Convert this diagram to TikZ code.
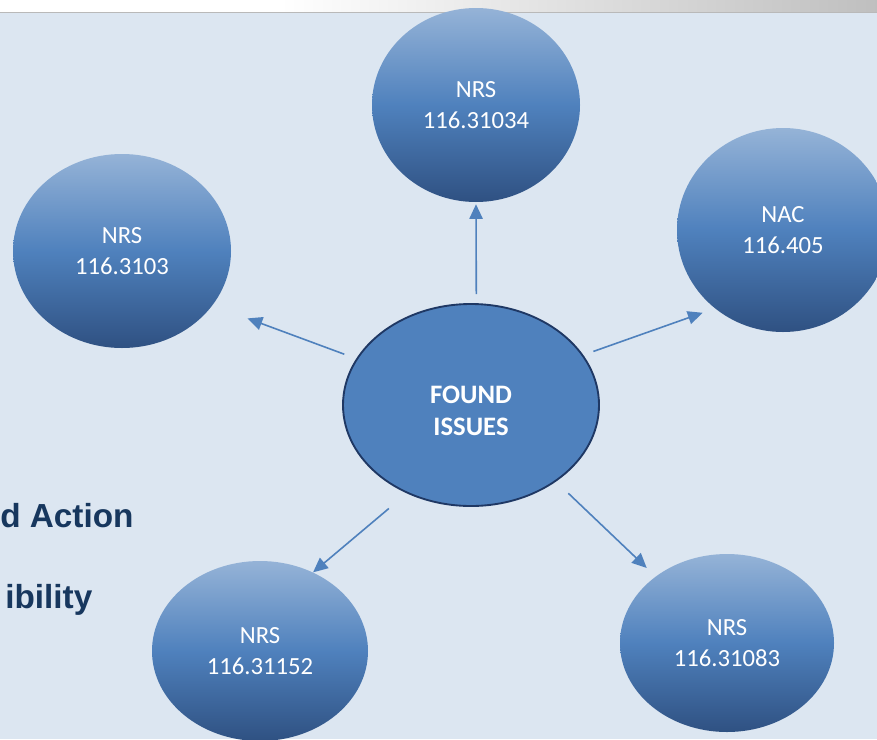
\documentclass[tikz,border=0pt]{standalone}
\usepackage{fontspec}
\setmainfont{Carlito}
\newfontfamily\headfont{Liberation Sans}
\usepackage{tikz}
\usetikzlibrary{shapes.geometric,arrows.meta}
\definecolor{bgblue}{HTML}{DCE6F1}
\definecolor{accent}{HTML}{4F81BD}
\definecolor{lightacc}{HTML}{95B3D7}
\definecolor{darkacc}{HTML}{2F5182}
\definecolor{navy}{HTML}{17375E}
\definecolor{rimblue}{HTML}{1F3864}
\tikzstyle{arrow} = [line width=1.2pt, draw=accent, -{Triangle[length=11pt,width=10pt]}]
\tikzset{
 c/.style
  = {ellipse, inner sep=0pt, text=white, align=center, top color=lightacc,
     bottom color=darkacc, middle color=accent, font=\fontsize{18.5}{23}\selectfont},
 ci/.style
  = {ellipse, draw=rimblue, line width=1.4pt, fill=accent, inner sep=0pt},
 cit/.style
  = {text=white, align=center, yshift=-4.5pt, font=\fontsize{20}{24}\selectfont\bfseries},
 lt/.style
  = {anchor=base west, inner sep=0pt, text=navy, font=\headfont\fontsize{25}{28}\selectfont\bfseries},
}

\begin{document}
\begin{tikzpicture}[x=0.75pt, y=-0.75pt]
\useasboundingbox (0,0) rectangle (877,739);

% Background
\fill[bgblue] (0,0) rectangle (877,739);

% Title bar
\fill[white] (0,0) rectangle (280,12);
\shade[left color=white, right color=gray!50] (280,0) rectangle (877,12);
\draw[gray!55, line width=1.2pt] (0,12.5) -- (877,12.5);

% Left text
\node[lt] (act) at (0,527) {d Action};
\node[lt] (resp) at (5,608) {ibility};

% Found issues
\node[ci, minimum width=192pt, minimum height=151.5pt,
      label={[cit]center:FOUND\\ISSUES}] (found) at (471,405) {};

% Circles
\node[c, minimum width=156pt, minimum height=145.5pt] (top) at (476,105) {NRS\\116.31034};
\node[c, minimum width=163.5pt, minimum height=145.5pt] (left) at (122,251) {NRS\\116.3103};
\node[c, minimum width=159pt, minimum height=153pt] (right) at (783,230) {NAC\\116.405};
\node[c, minimum width=162pt, minimum height=135pt] (botleft) at (260,651) {NRS\\116.31152};
\node[c, minimum width=160.5pt, minimum height=133.5pt] (botright) at (727,643) {NRS\\116.31083};

% Arrows
\draw[arrow, shorten <=6.75pt, shorten >=1.5pt] (found.87) -- (top.-90);
\draw[arrow, shorten <=9.5pt, shorten >=28pt] (found.158) -- (left.-31);
\draw[arrow, shorten <=8pt, shorten >=9.75pt] (found.24) -- (right.-131.5);
\draw[arrow, shorten <=17.6pt] (found.-126) -- (botleft.56);
\draw[arrow, shorten <=12.75pt, shorten >=9.2pt] (found.-42.5) -- (botright.137);

\end{tikzpicture}
\end{document}
